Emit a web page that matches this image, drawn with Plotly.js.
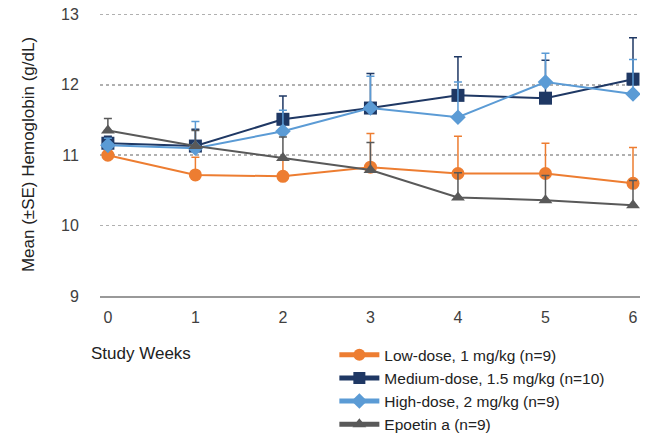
<!DOCTYPE html>
<html>
<head>
<meta charset="utf-8">
<script src="https://cdn.plot.ly/plotly-3.0.1.min.js"></script>
<style>html,body{margin:0;padding:0;background:#fff;}#chart{width:669px;height:434px;}</style>
</head>
<body>
<div id="chart"></div>
<script>
var weeks = [0, 1, 2, 3, 4, 5, 6];
var seriesNames = ["Low-dose, 1 mg/kg (n=9)", "Medium-dose, 1.5 mg/kg (n=10)", "High-dose, 2 mg/kg (n=9)", "Epoetin a (n=9)"];
var lowDose = [11.00, 10.72, 10.70, 10.83, 10.74, 10.74, 10.60];
var lowDoseSE = [0.06, 0.25, 0.25, 0.48, 0.53, 0.43, 0.51];
var mediumDose = [11.17, 11.13, 11.51, 11.67, 11.85, 11.81, 12.08];
var mediumDoseSE = [0.10, 0.24, 0.33, 0.49, 0.55, 0.54, 0.59];
var highDose = [11.14, 11.10, 11.34, 11.67, 11.54, 12.04, 11.87];
var highDoseSE = [0.10, 0.38, 0.30, 0.45, 0.50, 0.41, 0.49];
var epoetin = [11.35, 11.13, 10.96, 10.79, 10.40, 10.36, 10.29];
var epoetinSE = [0.17, 0.22, 0.30, 0.39, 0.35, 0.35, 0.35];
var yTicks = [9, 10, 11, 12, 13];

var colors = ["#ED7D31", "#1F3864", "#5B9BD5", "#595959"];
var symbols = ["circle", "square", "diamond", "triangle-up"];
var sizes = [13, 13, 12, 12];
var values = [lowDose, mediumDose, highDose, epoetin];
var errs = [lowDoseSE, mediumDoseSE, highDoseSE, epoetinSE];

var traces = [];
for (var i = 0; i < 4; i++) {
  traces.push({
    x: weeks, y: values[i], name: seriesNames[i], type: 'scatter', mode: 'lines+markers',
    line: {color: colors[i], width: 2},
    marker: {color: colors[i], symbol: symbols[i], size: sizes[i]},
    error_y: {type: 'data', array: errs[i], arrayminus: weeks.map(function(){return 0;}), symmetric: false,
              color: colors[i], thickness: 1.5, width: 4},
    legendrank: i + 1
  });
}

var layout = {
  width: 669, height: 434,
  margin: {l: 100, r: 29, t: 13, b: 138, autoexpand: false},
  paper_bgcolor: '#fff', plot_bgcolor: '#fff',
  font: {family: 'Liberation Sans, Arial, sans-serif', size: 15, color: '#404040'},
  showlegend: true,
  legend: {x: 0.434, y: -0.149, xanchor: 'left', yanchor: 'top', itemsizing: 'constant',
           font: {size: 15.5, color: '#222'}, tracegroupgap: 0, itemwidth: 40, bgcolor: 'rgba(0,0,0,0)'},
  xaxis: {range: [-0.09, 6.08], tickvals: weeks, ticktext: weeks.map(String), showgrid: false, zeroline: false,
          showline: true, linecolor: '#999', linewidth: 1.5, ticks: 'outside', ticklen: 6, tickcolor: 'rgba(0,0,0,0)',
          tickfont: {size: 16, color: '#404040'}, fixedrange: true},
  yaxis: {range: [9, 13.02], tickvals: yTicks, ticktext: yTicks.map(String), showgrid: true, gridcolor: '#b0b0b0',
          griddash: 'dot', gridwidth: 1.5, zeroline: false, showline: false, ticks: 'outside', ticklen: 17,
          tickcolor: 'rgba(0,0,0,0)', tickfont: {size: 16, color: '#404040'},
          title: {text: 'Mean (±SE) Hemoglobin (g/dL)', font: {size: 17, color: '#222'}, standoff: 22}},
  annotations: [{text: 'Study Weeks', xref: 'paper', yref: 'paper', x: -0.02, y: -0.203, xanchor: 'left', yanchor: 'middle',
                 showarrow: false, font: {size: 17, color: '#222'}}]
};
Plotly.newPlot('chart', traces, layout, {displayModeBar: false, staticPlot: true});
</script>
</body>
</html>
